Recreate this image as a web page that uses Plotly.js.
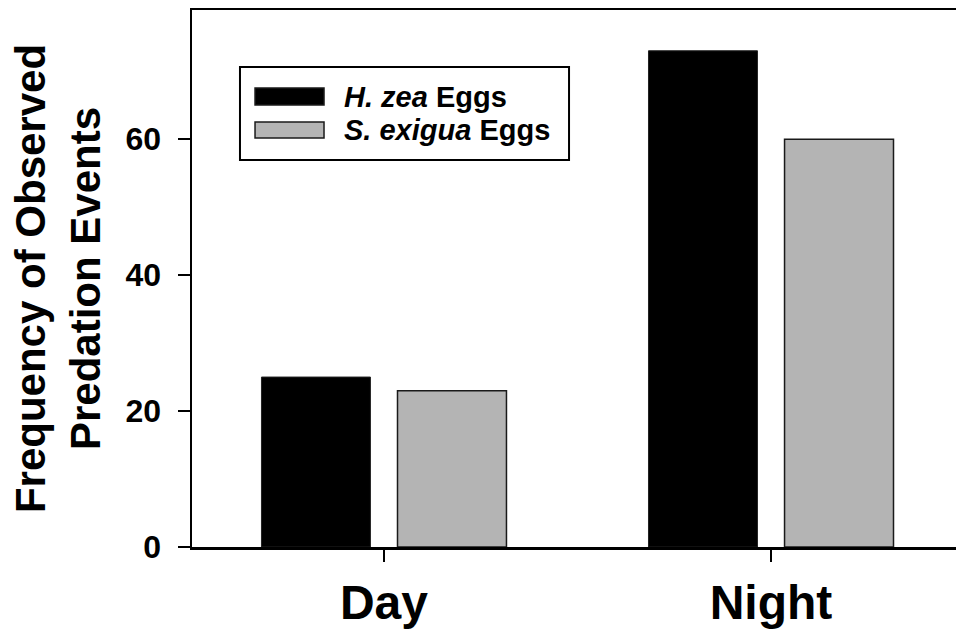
<!DOCTYPE html>
<html>
<head>
<meta charset="utf-8">
<script src="https://cdn.plot.ly/plotly-3.0.1.min.js"></script>
<style>
html, body { margin: 0; padding: 0; background: #ffffff; }
#chart { width: 956px; height: 633px; }
</style>
</head>
<body>
<div id="chart"></div>
<script>
// ---- data ----
var periods = ["Day", "Night"];
var seriesNames = ["H. zea", "S. exigua"];
var hzeaEggs = [25, 73];
var sexiguaEggs = [23, 60];
var yTickValues = [0, 20, 40, 60];

var FONT = "Arial, 'Liberation Sans', Helvetica, sans-serif";

var traces = [
  {
    type: "bar",
    name: seriesNames[0] + " Eggs",
    x: periods,
    y: hzeaEggs,
    marker: { color: "#000000", line: { color: "#222222", width: 1 } },
    showlegend: false,
    hoverinfo: "x+y+name"
  },
  {
    type: "bar",
    name: seriesNames[1] + " Eggs",
    x: periods,
    y: sexiguaEggs,
    marker: { color: "#b4b4b4", line: { color: "#1a1a1a", width: 1.5 } },
    showlegend: false,
    hoverinfo: "x+y+name"
  }
];

// hand-drawn legend box (paper coordinates)
var legendColors = ["#000000", "#b4b4b4"];
var legendRows = [
  { y0: 0.8231, y1: 0.8547, ty: 0.8389 },
  { y0: 0.7616, y1: 0.7914, ty: 0.7765 }
];
var shapes = [
  {
    type: "rect", xref: "paper", yref: "paper",
    x0: 0.0628, x1: 0.4935, y0: 0.7207, y1: 0.8939,
    line: { color: "#000000", width: 2 }, fillcolor: "rgba(255,255,255,0)"
  }
];
var annotations = [];
for (var i = 0; i < seriesNames.length; i++) {
  shapes.push({
    type: "rect", xref: "paper", yref: "paper",
    x0: 0.0825, x1: 0.1728, y0: legendRows[i].y0, y1: legendRows[i].y1,
    line: { color: "#1a1a1a", width: 1.5 }, fillcolor: legendColors[i]
  });
  annotations.push({
    xref: "paper", yref: "paper",
    x: 0.1963, y: legendRows[i].ty,
    xanchor: "left", yanchor: "middle",
    showarrow: false,
    text: "<b><i>" + seriesNames[i] + "</i> Eggs</b>",
    font: { family: FONT, size: 29, color: "#000000" }
  });
}

var layout = {
  width: 956,
  height: 633,
  margin: { l: 192, r: 0, t: 10, b: 86, pad: 0 },
  paper_bgcolor: "#ffffff",
  plot_bgcolor: "#ffffff",
  barmode: "group",
  bargap: 0.297,
  bargroupgap: 0.199,
  showlegend: false,
  font: { family: FONT, color: "#000000" },
  xaxis: {
    type: "category",
    range: [-0.496, 1.478],
    showline: true,
    linecolor: "#000000",
    linewidth: 2.5,
    mirror: true,
    ticks: "outside",
    ticklen: 12,
    tickwidth: 2,
    tickcolor: "#000000",
    showgrid: false,
    zeroline: false,
    tickfont: { family: FONT, size: 48, color: "#000000", weight: "bold" },
    ticklabelstandoff: 0
  },
  yaxis: {
    range: [0, 79],
    tickvals: yTickValues,
    ticktext: yTickValues.map(String),
    showline: true,
    linecolor: "#000000",
    linewidth: 2.5,
    mirror: false,
    ticks: "outside",
    ticklen: 12,
    tickwidth: 2,
    tickcolor: "#000000",
    showgrid: false,
    zeroline: false,
    tickfont: { family: FONT, size: 32, color: "#000000", weight: "bold" },
    ticklabelstandoff: 10,
    title: {
      text: "Frequency of Observed<br>Predation Events",
      font: { family: FONT, size: 42, color: "#000000", weight: "bold" },
      standoff: 12
    }
  },
  shapes: shapes,
  annotations: annotations
};

Plotly.newPlot("chart", traces, layout, { displayModeBar: false, staticPlot: true });
</script>
</body>
</html>
